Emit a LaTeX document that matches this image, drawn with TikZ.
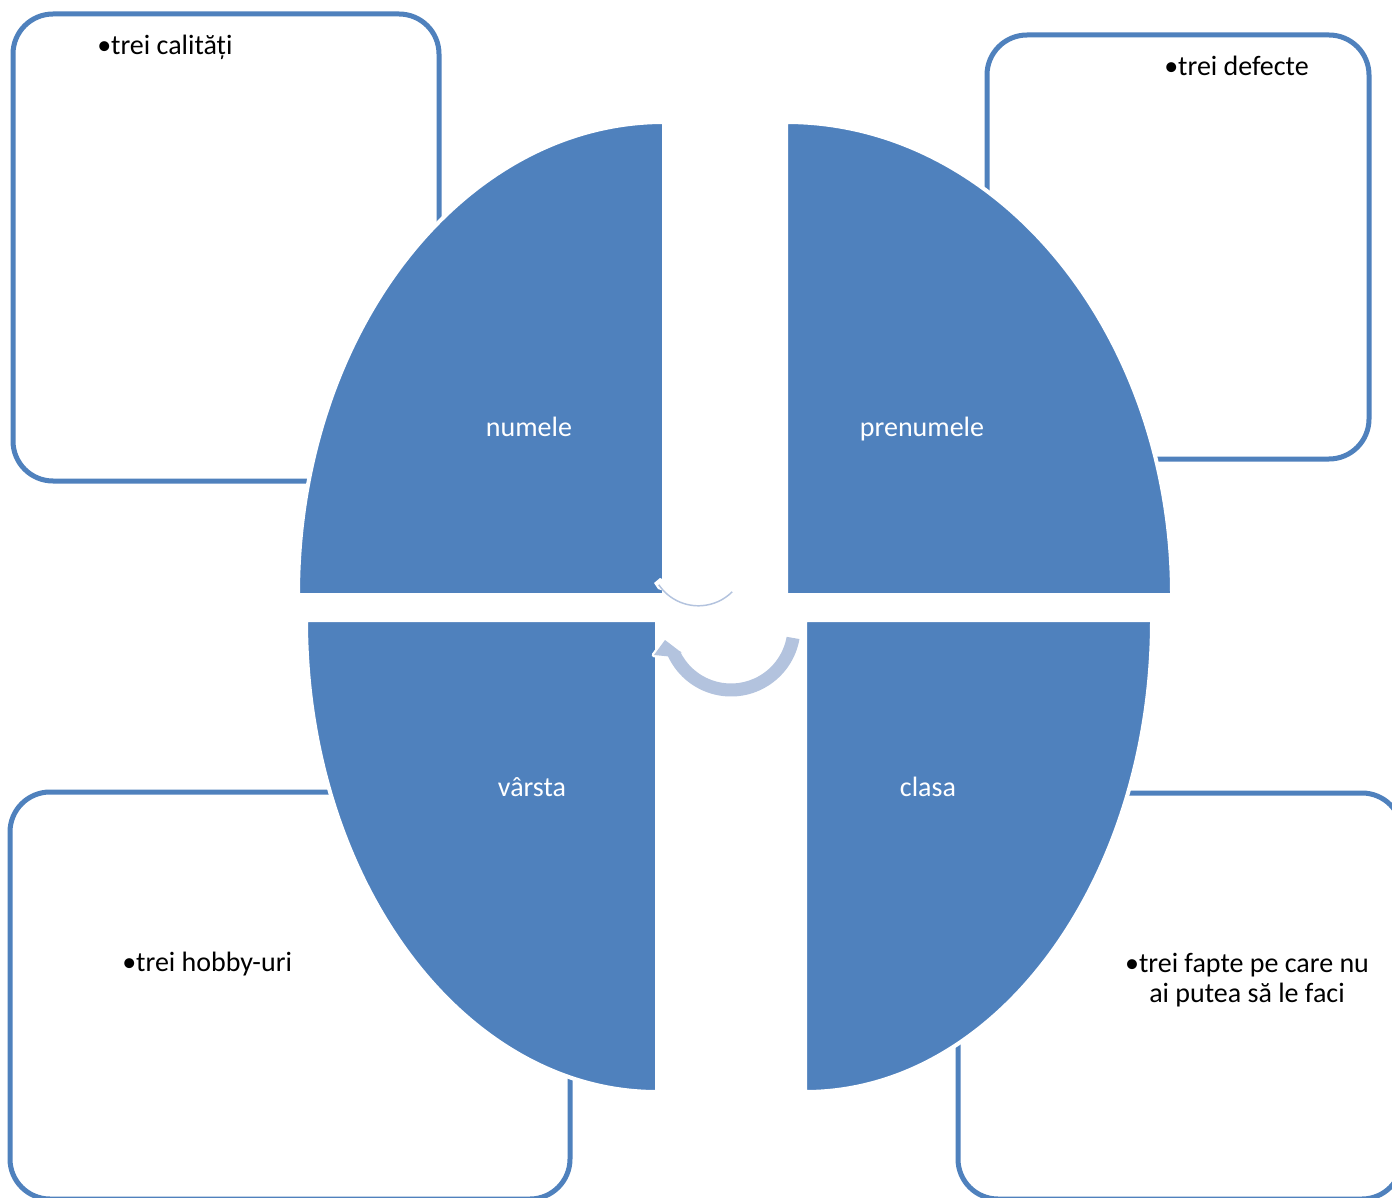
\documentclass[tikz,border=0pt]{standalone}
\usepackage{fontspec}
\setmainfont{Carlito}
\definecolor{accblue}{HTML}{4F81BD}
\definecolor{arrowblue}{HTML}{B3C3DE}
\begin{document}
\begin{tikzpicture}[x=0.75pt,y=-0.75pt,
  infobox/.style={draw=accblue,line width=3.75pt,rounded corners=30pt,fill=white,inner sep=0pt},
  quarter/.style={fill=accblue,draw=white,line width=3pt},
  qlabel/.style={text=white,font=\fontsize{21}{25}\selectfont,inner sep=0pt,anchor=base},
  btext/.style={text=black,font=\fontsize{21}{22.5}\selectfont,inner sep=0pt}]
\useasboundingbox (0,0) rectangle (1392,1198);
\clip (0,0) rectangle (1392,1198);
\fill[white] (0,0) rectangle (1392,1198);
% outer boxes
\node[infobox, minimum width=319.5pt, minimum height=350.25pt] (boxTL) at (226,247.5) {};
\node[infobox, minimum width=286.5pt, minimum height=318pt] (boxTR) at (1178,247) {};
\node[infobox, minimum width=420pt, minimum height=305.25pt] (boxBL) at (290,995.5) {};
\node[infobox, minimum width=333pt, minimum height=304.5pt] (boxBR) at (1180,996) {};
% quarter shapes
\draw[quarter] (664,595) -- (298,595) arc[start angle=180,end angle=270,x radius=366,y radius=473] -- cycle;
\draw[quarter] (786,595) -- (786,122) arc[start angle=270,end angle=360,x radius=386,y radius=473] -- cycle;
\draw[quarter] (657,620) -- (306,620) arc[start angle=180,end angle=90,x radius=351,y radius=472] -- cycle;
\draw[quarter] (805,620) -- (805,1092) arc[start angle=90,end angle=0,x radius=347,y radius=472] -- cycle;
% centre cycle arrows
\begin{scope}[shift={(731,627)}]
  \fill[arrowblue, preaction={draw=white,line width=3.5pt,line join=round}]
    (10:69.5) arc[start angle=10,end angle=155,radius=69.5]
    -- (-77,28) -- (-66,13) -- (-49,26)
    -- (155:56.5) arc[start angle=155,end angle=10,radius=56.5] -- cycle;
\end{scope}
\fill[white] (654,583) -- (660,578) -- (664,580) -- (664,591) -- (658,589) -- cycle;
\draw[arrowblue, line width=1.1pt] (698.4,558) ++(146:47.8) arc[start angle=146,end angle=45,radius=47.8];
% labels
\node[qlabel] (numele) at (529,436) {numele};
\node[qlabel] (prenumele) at (922,436) {prenumele};
\node[qlabel] (varsta) at (532,796) {vârsta};
\node[qlabel] (clasa) at (928,796) {clasa};
\node[btext, anchor=base west] (calitati) at (97,55) {•trei calități};
\node[btext, anchor=base west] (defecte) at (1164,76) {•trei defecte};
\node[btext, anchor=base west] (hobby) at (122,971) {•trei hobby-uri};
\node[btext, align=center] (fapte) at (1247,980) {•trei fapte pe care nu\\ai putea să le faci};
\end{tikzpicture}
\end{document}
